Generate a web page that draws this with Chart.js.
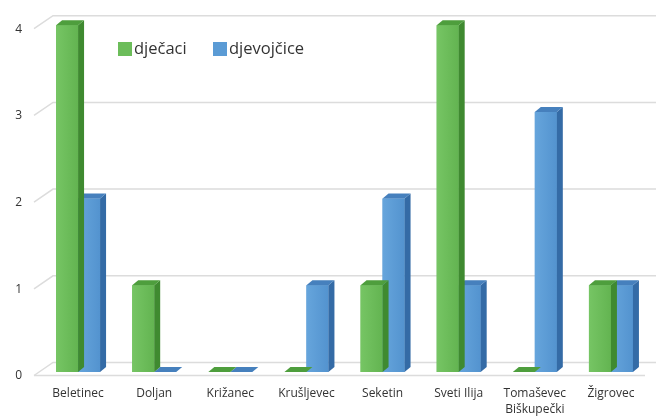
<!DOCTYPE html>
<html><head><meta charset="utf-8">
<script src="https://cdn.jsdelivr.net/npm/chart.js@4"></script>
<style>html,body{margin:0;padding:0;background:#fff}#w{width:656px;height:416px;position:relative}</style>
</head><body><div id="w"><canvas id="c"></canvas></div>
<script>
// ---- data ----
const categories = ['Beletinec', 'Doljan', 'Križanec', 'Krušljevec', 'Seketin', 'Sveti Ilija', ['Tomaševec', 'Biškupečki'], 'Žigrovec'];
const seriesNames = ['dječaci', 'djevojčice'];
const djecaci = [4, 1, 0, 0, 1, 4, 0, 1];
const djevojcice = [2, 0, 0, 1, 2, 1, 3, 1];
const yTicks = [0, 1, 2, 3, 4];

// ---- styles ----
const faceColors = [
  { front: '#6cbd5a', light: '#76c564', dark: '#63b451', side: '#3f8a30', top: '#4e9e3d' },
  { front: '#5b9bd5', light: '#66a5dc', dark: '#5393cf', side: '#346ba6', top: '#4680bd' }
];
const FONT = '"Open Sans", "Liberation Sans", sans-serif';
const DX = 6, DY = 5;      // bar depth
const WX = 19, WY = 13;    // wall depth

const depthPlugin = {
  id: 'depth',
  beforeDatasetsDraw(chart) {
    const { ctx, chartArea: a, scales: { y } } = chart;
    ctx.save();
    ctx.strokeStyle = '#dcdcdc';
    ctx.lineWidth = 1.5;
    yTicks.forEach(v => {
      const p = y.getPixelForValue(v);
      const fy = p + 3.5, by = fy - WY;
      ctx.beginPath();
      ctx.moveTo(a.left - 6, fy);
      ctx.lineTo(a.left - 6 + WX, by);
      ctx.lineTo(chart.width, by);
      ctx.stroke();
    });
    const p0 = y.getPixelForValue(0) + 3.5;
    ctx.beginPath();
    ctx.moveTo(a.left - 6, p0);
    ctx.lineTo(a.right - 4, p0);
    ctx.stroke();
    ctx.restore();
  },
  afterDatasetDraw(chart, args) {
    const ctx = chart.ctx;
    const c = faceColors[args.index];
    ctx.save();
    args.meta.data.forEach(bar => {
      const { x, y, base, width } = bar.getProps(['x', 'y', 'base', 'width'], true);
      const l = x - width / 2, r = x + width / 2;
      if (base - y > 0.5) {
        const g = ctx.createLinearGradient(l, 0, r, 0);
        g.addColorStop(0, c.light);
        g.addColorStop(1, c.dark);
        ctx.fillStyle = g;
        ctx.fillRect(l, y, width, base - y);
      }
      ctx.fillStyle = c.side;
      ctx.beginPath();
      ctx.moveTo(r, base); ctx.lineTo(r + DX, base - DY); ctx.lineTo(r + DX, y - DY); ctx.lineTo(r, y);
      ctx.closePath(); ctx.fill();
      ctx.fillStyle = c.top;
      ctx.beginPath();
      ctx.moveTo(l, y); ctx.lineTo(l + DX, y - DY); ctx.lineTo(r + DX, y - DY); ctx.lineTo(r, y);
      ctx.closePath(); ctx.fill();
    });
    ctx.restore();
  },
  afterDraw(chart) {
    const { ctx, chartArea: a } = chart;
    ctx.save();
    ctx.font = '16.5px ' + FONT;
    ctx.textBaseline = 'middle';
    ctx.textAlign = 'left';
    let x = a.left + 78;
    const yy = 49;
    chart.data.datasets.forEach((ds, i) => {
      ctx.fillStyle = faceColors[i].front;
      ctx.fillRect(x, yy - 7, 14, 14);
      ctx.fillStyle = '#333';
      ctx.fillText(ds.label, x + 16, yy);
      x += 95;
    });
    ctx.restore();
  }
};

new Chart(document.getElementById('c'), {
  type: 'bar',
  data: {
    labels: categories,
    datasets: [
      { label: seriesNames[0], data: djecaci, backgroundColor: faceColors[0].front },
      { label: seriesNames[1], data: djevojcice, backgroundColor: faceColors[1].front }
    ]
  },
  options: {
    responsive: true,
    maintainAspectRatio: false,
    animation: false,
    datasets: { bar: { categoryPercentage: 0.578, barPercentage: 1, borderWidth: 0, clip: false } },
    layout: { padding: { top: 20, right: 7, left: 0, bottom: 0 } },
    plugins: { legend: { display: false }, tooltip: { enabled: false }, title: { display: false } },
    scales: {
      x: {
        grid: { display: false, drawTicks: false },
        border: { display: false },
        ticks: { padding: 14, maxRotation: 0, autoSkip: false, color: '#333', font: { family: FONT, size: 12, lineHeight: 1.3 } },
        afterFit(s) { s.height = 44; }
      },
      y: {
        min: 0, max: 4,
        grid: { display: false, drawTicks: false },
        border: { display: false },
        ticks: { stepSize: 1, padding: 18, labelOffset: 4, color: '#333', font: { family: FONT, size: 12 } },
        afterFit(s) { s.width = 40; }
      }
    }
  },
  plugins: [depthPlugin]
});
</script>
</body></html>
